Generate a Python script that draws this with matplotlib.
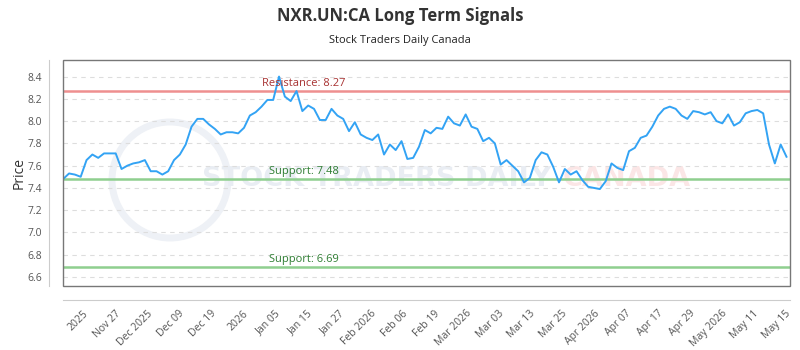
import matplotlib.pyplot as plt
import numpy as np
from matplotlib.patches import Rectangle, Circle

plt.rcParams['font.family'] = ['Open Sans', 'DejaVu Sans']

# closing prices, one per trading day
prices = [7.48, 7.53, 7.52, 7.50, 7.65, 7.70, 7.67, 7.71, 7.71, 7.71,
          7.57, 7.60, 7.62, 7.63, 7.65, 7.55, 7.55, 7.52, 7.55, 7.65,
          7.70, 7.79, 7.95, 8.02, 8.02, 7.97, 7.93, 7.88, 7.90, 7.90,
          7.89, 7.94, 8.05, 8.08, 8.13, 8.19, 8.19, 8.40, 8.22, 8.18,
          8.27, 8.09, 8.14, 8.11, 8.01, 8.01, 8.11, 8.05, 8.02, 7.91,
          7.99, 7.88, 7.85, 7.83, 7.88, 7.70, 7.79, 7.74, 7.82, 7.66,
          7.67, 7.77, 7.92, 7.89, 7.94, 7.93, 8.04, 7.98, 7.96, 8.06,
          7.95, 7.93, 7.82, 7.85, 7.80, 7.61, 7.65, 7.60, 7.55, 7.45,
          7.49, 7.65, 7.72, 7.70, 7.59, 7.45, 7.57, 7.52, 7.55, 7.47,
          7.41, 7.40, 7.39, 7.46, 7.62, 7.58, 7.56, 7.73, 7.76, 7.85,
          7.87, 7.95, 8.05, 8.11, 8.13, 8.11, 8.05, 8.02, 8.09, 8.08,
          8.06, 8.08, 8.00, 7.98, 8.06, 7.96, 7.99, 8.07, 8.09, 8.10,
          8.07, 7.79, 7.62, 7.79, 7.68]

tick_labels = ['2025', 'Nov 27', 'Dec 2025', 'Dec 09', 'Dec 19', '2026',
               'Jan 05', 'Jan 15', 'Jan 27', 'Feb 2026', 'Feb 06', 'Feb 19',
               'Mar 2026', 'Mar 03', 'Mar 13', 'Mar 25', 'Apr 2026', 'Apr 07',
               'Apr 17', 'Apr 29', 'May 2026', 'May 11', 'May 15']

resistance = 8.27
supports = [7.48, 6.69]

x = np.arange(len(prices))

fig = plt.figure(figsize=(8, 3.5), dpi=100)
ax = fig.add_axes([0.079, 0.183, 0.9085, 0.646])

# spines first: moving a spine resets the ticks
for side in ['top', 'right']:
    ax.spines[side].set_visible(False)
for side in ['left', 'bottom']:
    ax.spines[side].set_position(('outward', 10))
    ax.spines[side].set_color('#cccccc')
ax.add_patch(Rectangle((0, 0), 1, 1, transform=ax.transAxes, fill=False,
                       edgecolor='#777777', lw=1, clip_on=False, zorder=5))

# faint watermark behind the data
ax.add_patch(Circle((1.70, 1.70), 0.58, transform=fig.dpi_scale_trans,
                    fill=False, edgecolor='#eef1f6', lw=5, zorder=0.5,
                    clip_on=False))
ax.text(0.252, 0.49, 'STOCK TRADERS DAILY', fontsize=19.5, color='#e9edf3',
        family='DejaVu Sans', weight='bold',
        transform=fig.transFigure, ha='left', va='center', zorder=0.6)
ax.text(0.703, 0.49, 'CANADA', fontsize=19.5, color='#fbe6e6',
        family='DejaVu Sans', weight='bold',
        transform=fig.transFigure, ha='left', va='center', zorder=0.6)

ax.plot(x, prices, color='#33a3f4', lw=1.4, zorder=3)

ax.axhline(resistance, color='#ee8f8f', lw=1.8, zorder=2)
ax.text(0.331, resistance + 0.02, 'Resistance: %.2f' % resistance,
        transform=ax.get_yaxis_transform(), color='#a83232', fontsize=8,
        ha='center', va='bottom', zorder=4)
for s in supports:
    ax.axhline(s, color='#8fcf8f', lw=1.8, zorder=2)
    ax.text(0.331, s + 0.02, 'Support: %.2f' % s,
            transform=ax.get_yaxis_transform(), color='#2e7d32', fontsize=8,
            ha='center', va='bottom', zorder=4)

ax.set_xlim(0, 124.6)
ax.set_ylim(6.52, 8.55)
ax.set_yticks(np.arange(6.6, 8.41, 0.2))
ax.yaxis.set_major_formatter(plt.FormatStrFormatter('%.1f'))
ax.grid(axis='y', color='#dddddd', ls=(0, (4, 4)), lw=0.8, zorder=1)

ax.set_xticks(np.linspace(3.4, 123.8, len(tick_labels)))
ax.set_xticklabels(tick_labels)
ax.tick_params(axis='both', length=0, labelsize=7.5, colors='#555555')
ax.tick_params(axis='x', pad=6)
ax.tick_params(axis='y', pad=5)
plt.setp(ax.get_xticklabels(), rotation=45, ha='right',
         rotation_mode='anchor')

ax.set_ylabel('Price', fontsize=10, color='#333333', labelpad=1)

fig.text(0.5, 0.955, 'NXR.UN:CA Long Term Signals', ha='center', va='center',
         fontsize=12, weight='bold', color='#333333')
fig.text(0.5, 0.883, 'Stock Traders Daily Canada', ha='center', va='center',
         fontsize=8, color='#222222')

fig.savefig('out.png', dpi=100)
